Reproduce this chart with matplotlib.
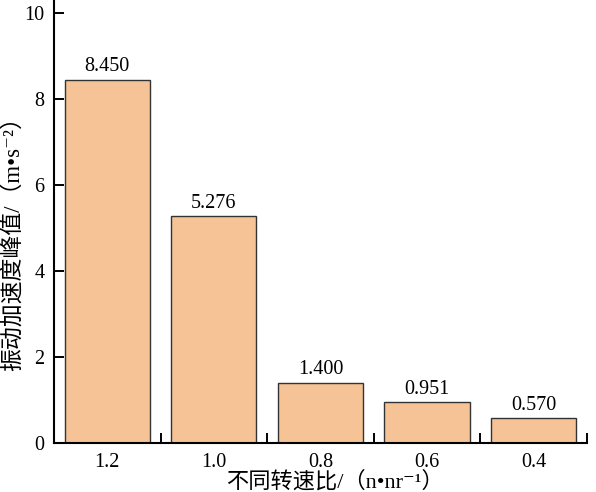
import matplotlib
matplotlib.use("Agg")

import matplotlib.pyplot as plt
from matplotlib.ticker import FixedLocator

speed_ratios = ["1.2", "1.0", "0.8", "0.6", "0.4"]
peak_accel = [8.450, 5.276, 1.400, 0.951, 0.570]
value_labels = ["8.450", "5.276", "1.400", "0.951", "0.570"]

FONT = ["Liberation Serif", "Noto Sans CJK SC", "DejaVu Serif"]


def main():
    plt.rcParams["font.family"] = FONT

    fig = plt.figure(figsize=(5.96, 4.92), dpi=100)
    ax = fig.add_axes([0.0906, 0.0996, 0.894, 0.9004])

    x = range(len(speed_ratios))
    bars = ax.bar(x, peak_accel, width=0.8, color="#F5C396",
                  edgecolor="#333333", linewidth=1.0)

    for b, lab in zip(bars, value_labels):
        ax.text(b.get_x() + b.get_width() / 2, b.get_height() + 0.08, lab,
                ha="center", va="bottom", fontsize=14.5)

    ax.set_xlim(-0.5, 4.5)
    ax.set_ylim(0, 10.3)
    ax.set_xticks(list(x))
    ax.set_xticklabels(speed_ratios, fontsize=14.5)
    ax.xaxis.set_minor_locator(FixedLocator([0.5, 1.5, 2.5, 3.5, 4.5]))
    ax.tick_params(axis="x", which="major", length=0, pad=7)
    ax.tick_params(axis="x", which="minor", direction="in", length=7, width=1.4)
    ax.set_yticks([0, 2, 4, 6, 8, 10])
    ax.tick_params(axis="y", direction="in", length=7, width=1.4,
                   labelsize=14.5, pad=7)

    for side in ("top", "right"):
        ax.spines[side].set_visible(False)
    for side in ("left", "bottom"):
        ax.spines[side].set_linewidth(1.5)

    fig.text(335 / 596, 1 - 488 / 492, "不同转速比/（n•nr⁻¹）",
             ha="center", va="baseline", fontsize=16)
    fig.text(14 / 596, 1 - 238 / 492, "振动加速度峰值/（m•s⁻²）",
             ha="center", va="center", rotation=90, fontsize=16.5)

    fig.savefig("out.png", dpi=100)


if __name__ == "__main__":
    main()
